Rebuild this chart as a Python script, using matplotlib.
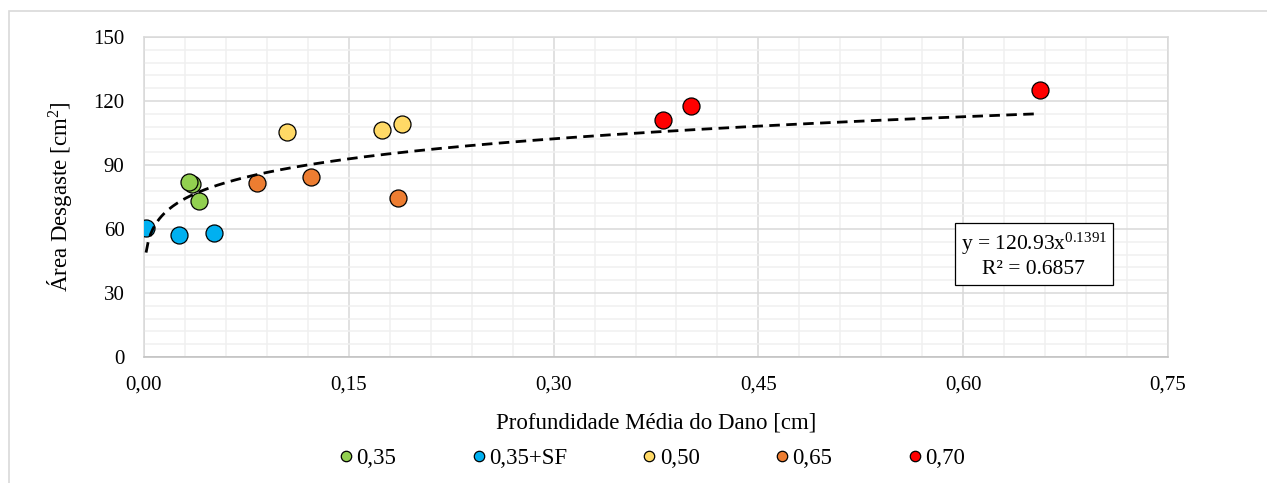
import numpy as np
import matplotlib
matplotlib.use("Agg")
import matplotlib.pyplot as plt
from matplotlib.patches import Rectangle
from matplotlib.ticker import MultipleLocator, FuncFormatter

plt.rcParams['font.family'] = ['Liberation Serif', 'DejaVu Serif']
plt.rcParams['mathtext.fontset'] = 'custom'
plt.rcParams['mathtext.rm'] = 'Liberation Serif'
plt.rcParams['mathtext.it'] = 'Liberation Serif:italic'

# ---- data ----
series_names = ['0,35', '0,35+SF', '0,50', '0,65', '0,70']
series_colors = ['#92d050', '#00b0f0', '#ffd966', '#ed7d31', '#ff0000']
x_035 = [0.035, 0.033, 0.040]
y_035 = [81.1, 82.0, 73.1]
x_035sf = [0.0015, 0.026, 0.051]
y_035sf = [60.5, 57.2, 58.1]
x_050 = [0.105, 0.174, 0.189]
y_050 = [105.5, 106.4, 109.2]
x_065 = [0.083, 0.122, 0.186]
y_065 = [81.6, 84.4, 74.5]
x_070 = [0.380, 0.401, 0.656]
y_070 = [111.1, 117.7, 125.2]
xs = [x_035, x_035sf, x_050, x_065, x_070]
ys = [y_035, y_035sf, y_050, y_065, y_070]

trend_a = 120.93
trend_b = 0.1391
trend_r2 = 0.6857

W, H = 1267, 483
fig = plt.figure(figsize=(W / 100, H / 100), dpi=100)
ax = fig.add_axes([144 / W, 1 - 357 / H, (1168 - 144) / W, (357 - 37) / H])

# outer chart frame
fig.patches.append(Rectangle((9 / W, -0.1), 1.2, 1 - 11 / H + 0.1, transform=fig.transFigure,
                             fill=False, edgecolor='#d9d9d9', linewidth=1.2, zorder=0))

for xv, yv, name, col in zip(xs, ys, series_names, series_colors):
    ax.scatter(xv, yv, s=150, color=col, edgecolors='black', linewidths=0.9, zorder=3)

# power trendline
all_x = np.concatenate([np.array(v) for v in xs])
xt = np.linspace(all_x.min(), all_x.max(), 400)
yt = trend_a * xt ** trend_b
ax.plot(xt, yt, color='black', linewidth=2.0, linestyle=(0, (3.8, 2.3)), zorder=4)

ax.set_xlim(0, 0.75)
ax.set_ylim(0, 150)
ax.xaxis.set_major_locator(MultipleLocator(0.15))
ax.xaxis.set_minor_locator(MultipleLocator(0.03))
ax.yaxis.set_major_locator(MultipleLocator(30))
ax.yaxis.set_minor_locator(MultipleLocator(6))
ax.xaxis.set_major_formatter(FuncFormatter(lambda v, p: f"{v:.2f}".replace('.', ',')))
ax.yaxis.set_major_formatter(FuncFormatter(lambda v, p: f"{v:.0f}"))
ax.grid(which='major', color='#d9d9d9', linewidth=1.1)
ax.grid(which='minor', color='#f0f0f0', linewidth=1.1)
ax.set_axisbelow(True)
ax.tick_params(which='both', length=0, labelsize=15, colors='black')
ax.tick_params(axis='x', pad=13)
ax.tick_params(axis='y', pad=14)
for s in ax.spines.values():
    s.set_color('#d9d9d9')
    s.set_linewidth(1.1)
ax.spines['bottom'].set_color('#bfbfbf')

ax.set_xlabel('Profundidade Média do Dano [cm]', fontsize=16.5, labelpad=13)
ax.set_ylabel('Área Desgaste [cm$^{2}$]', fontsize=16.5, labelpad=14)

ax.text(0.869, 0.319, f'y = {trend_a:.2f}x$^{{\\mathrm{{{trend_b}}}}}$\nR² = {trend_r2}',
        transform=ax.transAxes, ha='center', va='center', fontsize=15.5, multialignment='center',
        bbox=dict(boxstyle='square,pad=0.28', facecolor='white', edgecolor='black', linewidth=0.9),
        zorder=5)

handles = [plt.Line2D([], [], linestyle='none', marker='o', markersize=7.5,
                      markerfacecolor=c, markeredgecolor='black', markeredgewidth=0.9)
           for c in series_colors]
fig.legend(handles, series_names, loc='center', bbox_to_anchor=(652 / W, 1 - 458 / H),
           ncol=5, frameon=False, fontsize=16.5, handlelength=0.6, handletextpad=0.15,
           columnspacing=3.3, borderpad=0)

fig.savefig('out.png', dpi=100)
